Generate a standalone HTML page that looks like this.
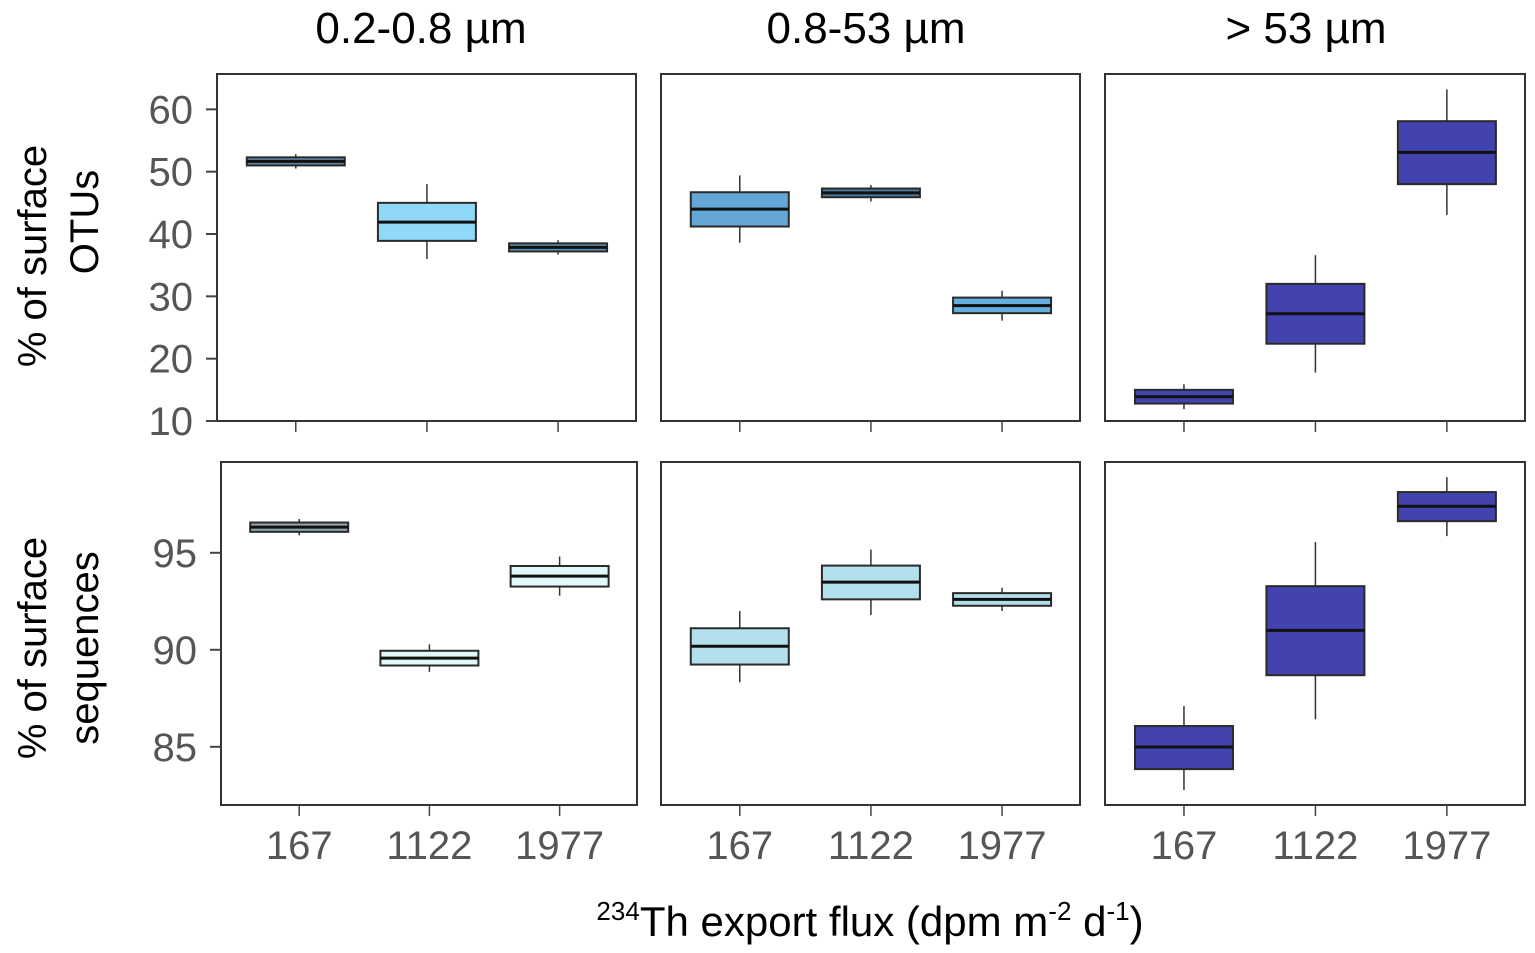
<!DOCTYPE html>
<html><head><meta charset="utf-8"><style>
html,body{margin:0;padding:0;background:#fff;}
svg{display:block;font-family:"Liberation Sans",sans-serif;}
</style></head><body>
<svg id="chart" width="1535" height="953">
<text x="421" y="43" font-size="44" text-anchor="middle">0.2-0.8 µm</text>
<text x="866" y="43" font-size="44" text-anchor="middle">0.8-53 µm</text>
<text x="1306" y="43" font-size="44" text-anchor="middle">&gt; 53 µm</text>
<text transform="translate(46,256) rotate(-90)" font-size="40" text-anchor="middle">% of surface</text>
<text transform="translate(98,222) rotate(-90)" font-size="40" text-anchor="middle">OTUs</text>
<text transform="translate(46,648) rotate(-90)" font-size="40" text-anchor="middle">% of surface</text>
<text transform="translate(98,648) rotate(-90)" font-size="40" text-anchor="middle">sequences</text>
<text x="870" y="936" font-size="42" text-anchor="middle"><tspan font-size="26" dy="-16">234</tspan><tspan dy="16">Th export flux (dpm m</tspan><tspan font-size="26" dy="-16">-2</tspan><tspan dy="16"> d</tspan><tspan font-size="26" dy="-16">-1</tspan><tspan dy="16">)</tspan></text>
</svg>
<script>
const categories = ["167","1122","1977"];
const topTicks = [10,20,30,40,50,60];
const bottomTicks = [85,90,95];
// [whiskerLow, q1, median, q3, whiskerHigh]
const otuSmall = [[50.5,51.0,51.65,52.3,52.8],[36.0,38.9,41.9,45.0,48.0],[36.7,37.2,37.85,38.5,39.0]];
const otuMedium = [[38.6,41.2,44.0,46.7,49.4],[45.2,45.9,46.6,47.3,47.85],[26.1,27.3,28.5,29.8,30.9]];
const otuLarge = [[11.9,12.8,13.9,15.0,15.9],[17.75,22.4,27.2,32.0,36.6],[43.05,48.0,53.1,58.1,63.2]];
const seqSmall = [[95.9,96.08,96.32,96.56,96.74],[88.86,89.19,89.57,89.95,90.28],[92.79,93.26,93.8,94.32,94.81]];
const seqMedium = [[88.33,89.24,90.18,91.11,92.0],[91.79,92.6,93.49,94.34,95.17],[92.0,92.27,92.6,92.92,93.2]];
const seqLarge = [[82.77,83.85,84.99,86.07,87.1],[86.42,88.69,91.0,93.28,95.55],[95.86,96.63,97.4,98.13,98.9]];

const svg = document.getElementById('chart');
const NS = 'http://www.w3.org/2000/svg';
function mk(tag, attrs){const e=document.createElementNS(NS,tag);for(const k in attrs)e.setAttribute(k,attrs[k]);svg.appendChild(e);return e;}

const panels = [
 {name:'otu-small', data:otuSmall, x0:217,x1:636,y0:74,y1:421,dmin:10,dmax:65.67,ticks:topTicks,yaxis:true,xlabels:false,colors:['#5a87a8','#8fd8f8','#5a8fb2']},
 {name:'otu-medium', data:otuMedium, x0:661,x1:1080,y0:74,y1:421,dmin:10,dmax:65.67,ticks:topTicks,yaxis:false,xlabels:false,colors:['#64a6d6','#4a7a9e','#64aee0']},
 {name:'otu-large', data:otuLarge, x0:1105,x1:1525,y0:74,y1:421,dmin:10,dmax:65.67,ticks:topTicks,yaxis:false,xlabels:false,colors:['#4343b0','#4343b0','#4343b0']},
 {name:'seq-small', data:seqSmall, x0:221,x1:637,y0:462,y1:805,dmin:82.0,dmax:99.68,ticks:bottomTicks,yaxis:true,xlabels:true,colors:['#8fa7aa','#e0f8fa','#e0f8fa']},
 {name:'seq-medium', data:seqMedium, x0:661,x1:1080,y0:462,y1:805,dmin:82.0,dmax:99.68,ticks:bottomTicks,yaxis:false,xlabels:true,colors:['#b4e0ee','#b4e0ee','#b4e0ee']},
 {name:'seq-large', data:seqLarge, x0:1105,x1:1525,y0:462,y1:805,dmin:82.0,dmax:99.68,ticks:bottomTicks,yaxis:false,xlabels:true,colors:['#4343b0','#4343b0','#4343b0']}
];

panels.forEach(p=>{
  const w=p.x1-p.x0;
  const xs=i=>p.x0+w*(0.188+0.313*i);
  const ys=v=>p.y1-(v-p.dmin)/(p.dmax-p.dmin)*(p.y1-p.y0);
  const fr=mk('rect',{x:p.x0,y:p.y0,width:w,height:p.y1-p.y0,fill:'#fff',stroke:'#333','stroke-width':2});
  
  
  if(p.yaxis){
    p.ticks.forEach(t=>{
      const ln=mk('line',{x1:p.x0-11,x2:p.x0,y1:ys(t),y2:ys(t),stroke:'#444','stroke-width':2});
      
      
      const tx=mk('text',{x:p.x0-24,y:ys(t)+14,'font-size':40,fill:'#555','text-anchor':'end'});
      tx.textContent=t;
      
      
    });
  }
  p.data.forEach((d,i)=>{
    const cx=xs(i), bw=98;
    const tk=mk('line',{x1:cx,x2:cx,y1:p.y1,y2:p.y1+11,stroke:'#444','stroke-width':1.5});
    
    
    if(p.xlabels){
      const lb=mk('text',{x:cx,y:859,'font-size':40,fill:'#555','text-anchor':'middle'});
      lb.textContent=categories[i];
      
      
    }
    const wl=mk('line',{x1:cx,x2:cx,y1:ys(d[0]),y2:ys(d[4]),stroke:'#333','stroke-width':1.5});
    
    
    const bx=mk('rect',{x:cx-bw/2,y:ys(d[3]),width:bw,height:ys(d[1])-ys(d[3]),fill:p.colors[i],stroke:'#2a2a2a','stroke-width':2});
    
    
    const md=mk('line',{x1:cx-bw/2,x2:cx+bw/2,y1:ys(d[2]),y2:ys(d[2]),stroke:'#111','stroke-width':3});
    
    
  });
});
</script>
</body></html>
